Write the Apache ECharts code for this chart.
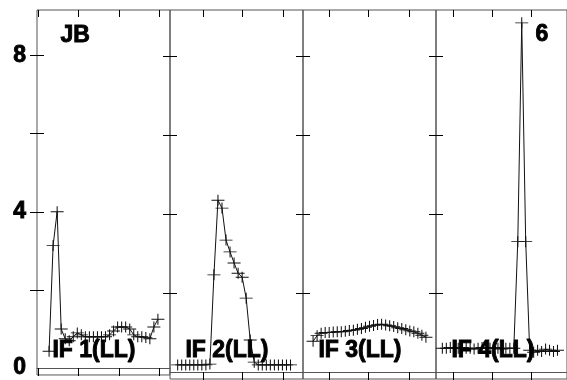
<!DOCTYPE html>
<html><head><meta charset="utf-8">
<script src="https://cdn.jsdelivr.net/npm/echarts@6/dist/echarts.min.js"></script>
<style>html,body{margin:0;padding:0;background:#fff}#c{width:567px;height:380px}</style>
</head><body><div id="c"></div>
<script>
// ---- data ----
const panelLabels = ['IF 1(LL)', 'IF 2(LL)', 'IF 3(LL)', 'IF 4(LL)'];
const cornerLeft = 'JB';
const cornerRight = '6';
const yTickValues = [2, 4, 6, 8];
const yLabelValues = [0, 4, 8];

const p1X = [3,4,5,6,7,8,9,10,11,12,13,14,15,16,17,18,19,20,21,22,23,24,25,26,27,28,29,30];
const p1Y = [0.43,3.14,4.0,1.0,0.75,0.7,0.8,0.9,0.85,0.8,0.8,0.8,0.8,0.8,0.8,0.85,0.95,1.05,1.05,1.05,1.0,0.85,0.8,0.8,0.78,0.75,1.05,1.25];

const p2X = [1.9,2.9,3.9,4.9,5.9,6.9,7.9,8.9,9.9,10.9,11.9,12.9,13.9,14.9,15.9,16.9,17.9,18.9,19.9,20.9,21.9,22.9,23.9,24.9,25.9,26.9,27.9,28.9,29.9];
const p2Y = [0.18,0.18,0.18,0.18,0.18,0.18,0.18,0.18,0.2,2.46,4.35,4.15,3.34,3.04,2.76,2.5,2.4,1.87,0.81,0.25,0.18,0.18,0.18,0.18,0.18,0.18,0.18,0.18,0.18];

const p3X = [2.5,3.5,4.5,5.5,6.5,7.5,8.5,9.5,10.5,11.5,12.5,13.5,14.5,15.5,16.5,17.5,18.5,19.5,20.5,21.5,22.5,23.5,24.5,25.5,26.5,27.5,28.5,29.5,30.5];
const p3Y = [0.78,0.92,0.98,1.0,1.0,1.01,1.02,1.02,1.03,1.05,1.06,1.08,1.1,1.13,1.16,1.18,1.2,1.21,1.19,1.17,1.15,1.12,1.1,1.07,1.04,1.02,0.98,0.93,0.88];

const p4X = [1.6,2.6,3.6,4.6,5.6,6.6,7.6,8.6,9.6,10.6,11.6,12.6,13.6,14.6,15.6,16.6,17.6,18.6,19.6,20.6,21.6,22.6,23.6,24.6,25.6,26.6,27.6,28.6,29.6,30.6];
const p4Y = [0.6,0.6,0.62,0.6,0.6,0.62,0.6,0.6,0.58,0.6,0.62,0.6,0.6,0.62,0.6,0.58,0.6,0.6,0.6,3.3,8.84,3.3,0.55,0.5,0.55,0.52,0.58,0.55,0.52,0.55];

const xTickValues = [[0.25,10.3,20.3,30.4],[8.2,18.0,28.2],[6.4,16.3,26.4],[4.3,14.2,24.1]];

const panelsX = [p1X, p2X, p3X, p4X];
const panelsY = [p1Y, p2Y, p3Y, p4Y];

// ---- layout ----
const gridLefts = [37, 170, 303, 436];
const gridWidth = 133;
const yMin = -0.177, yMax = 9.165;
const xMin = 0, xMax = 33;
const frameColor = '#555';
const FONT = '"Liberation Sans", Arial, sans-serif';
const plusPath = 'path://M-0.08,-1L0.08,-1L0.08,-0.08L1,-0.08L1,0.08L0.08,0.08L0.08,1L-0.08,1L-0.08,0.08L-1,0.08L-1,-0.08L-0.08,-0.08Z';

const grid = [], xAxis = [], yAxis = [], series = [], graphic = [];
for (let i = 0; i < 4; i++) {
  grid.push({left: gridLefts[i], top: 10, width: gridWidth, height: 369,
    show: true, borderColor: frameColor, borderWidth: 1, backgroundColor: 'transparent'});
  xAxis.push({type: 'value', gridIndex: i, min: xMin, max: xMax, position: 'bottom',
    axisLine: {show: true, onZero: true, lineStyle: {color: frameColor, width: 1}},
    axisTick: {show: true, inside: false, length: 8, customValues: xTickValues[i], lineStyle: {color: '#000', width: 1}},
    axisLabel: {show: false}, splitLine: {show: false}});
  xAxis.push({type: 'value', gridIndex: i, min: xMin, max: xMax, position: 'top',
    axisLine: {show: false, onZero: false},
    axisTick: {show: true, inside: true, length: 7, customValues: xTickValues[i], lineStyle: {color: '#000', width: 1}},
    axisLabel: {show: false}, splitLine: {show: false}});
  yAxis.push({type: 'value', gridIndex: i, min: yMin, max: yMax, position: 'left',
    axisLine: {show: false},
    axisTick: {show: true, inside: true, length: 7, customValues: yTickValues, lineStyle: {color: '#000', width: 1}},
    axisLabel: {show: i === 0, customValues: yLabelValues, fontSize: 23, fontWeight: 'bold', color: '#000',
      fontFamily: 'Liberation Sans', margin: 11, textBorderColor: '#000', textBorderWidth: 0.9},
    splitLine: {show: false}});
  yAxis.push({type: 'value', gridIndex: i, min: yMin, max: yMax, position: 'right',
    axisLine: {show: false},
    axisTick: {show: true, inside: true, length: 7, customValues: yTickValues, lineStyle: {color: '#000', width: 1}},
    axisLabel: {show: false}, splitLine: {show: false}});
  series.push({type: 'line', xAxisIndex: 2 * i, yAxisIndex: 2 * i,
    data: panelsX[i].map((x, k) => [x, panelsY[i][k]]),
    symbol: plusPath, symbolSize: [13, 11], showAllSymbol: true,
    itemStyle: {color: '#111'}, lineStyle: {color: '#111', width: 1}, z: 3});
  graphic.push({type: 'text', left: gridLefts[i] + 15, top: 339, z: 10,
    style: {text: panelLabels[i], font: 'bold 23px ' + FONT, fill: '#000', stroke: '#000', lineWidth: 0.9}});
}
graphic.push({type: 'text', left: 60, top: 24, z: 10, style: {text: cornerLeft, font: 'bold 23px ' + FONT, fill: '#000', stroke: '#000', lineWidth: 0.9}});
graphic.push({type: 'text', left: 535, top: 23, z: 10, style: {text: cornerRight, font: 'bold 23px ' + FONT, fill: '#000', stroke: '#000', lineWidth: 0.9}});

const chart = echarts.init(document.getElementById('c'), null, {renderer: 'canvas'});
chart.setOption({animation: false, backgroundColor: '#fff', grid, xAxis, yAxis, series, graphic});
</script></body></html>
